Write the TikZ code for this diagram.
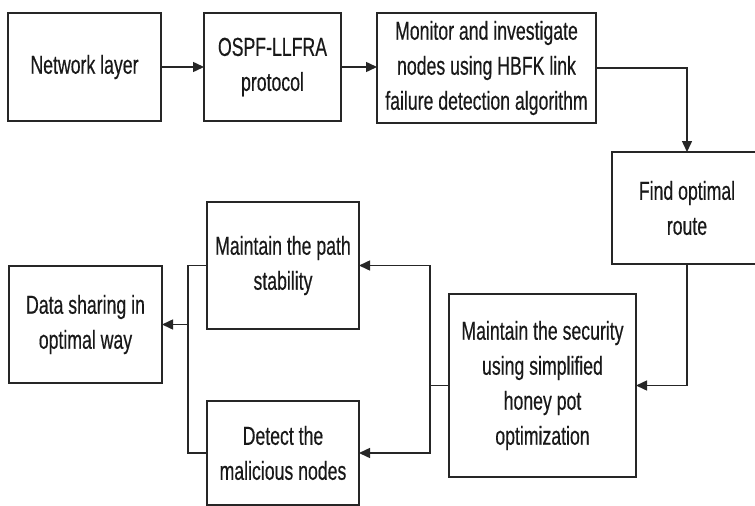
\documentclass[tikz,border=0pt]{standalone}
\usepackage{fontspec}
\setmainfont{Liberation Sans}[FakeStretch=0.68,FakeBold=0.4]
\usetikzlibrary{arrows.meta,calc}

\tikzset{
  blk/.style={draw=black!85, line width=1.5pt, inner sep=0pt, outer sep=0pt,
    align=center, text=black!90, font=\fontsize{26}{35}\selectfont},
  link/.style={draw=black!85, line width=1.5pt},
  flow/.style={link, -{Triangle[length=11pt,width=10pt]}}
}

\begin{document}
\begin{tikzpicture}[x=1pt,y=-1pt]
  \useasboundingbox (0,0) rectangle (755,506);
  \clip (0,0) rectangle (755,506);

  % top row
  \node[blk, minimum width=153pt, minimum height=108pt] (net) at (84.5,67) {Network layer};
  \node[blk, minimum width=137pt, minimum height=108pt] (ospf) at (272.5,67) {OSPF-LLFRA\\protocol};
  \node[blk, minimum width=219pt, minimum height=110pt] (mon) at (486.5,68)
    {Monitor and investigate\\nodes using HBFK link\\failure detection algorithm};

  % right column
  \node[blk, minimum width=150pt, minimum height=112pt] (route) at (687,208) {Find optimal\\route};
  \node[blk, minimum width=187pt, minimum height=183pt] (sec) at (542.5,385.5)
    {Maintain the security\\using simplified\\honey pot\\optimization};

  % middle column
  \node[blk, minimum width=152pt, minimum height=127pt] (path) at (283,265.5) {Maintain the path\\stability};
  \node[blk, minimum width=152pt, minimum height=104pt] (mal) at (283,453) {Detect the\\malicious nodes};

  % output
  \node[blk, minimum width=153pt, minimum height=117pt] (share) at (85.5,324.5) {Data sharing in\\optimal way};

  % junction points
  \coordinate (split) at ($(sec.west)+(-19,0)$);
  \coordinate (merge) at ($(share.east)+(26,0)$);

  % connectors
  \draw[flow] (net.east) -- (ospf.west);
  \draw[flow] (ospf.east) -- (ospf.east -| mon.west);
  \draw[flow] (mon.east) -| (route.north);
  \draw[flow] (route.south) |- (sec.east);
  \draw[link] (sec.west) -- (split);
  \draw[flow] (split) |- (path.east);
  \draw[flow] (split) |- (mal.east);
  \draw[link] (path.west) -| (merge);
  \draw[link] (mal.west) -| (merge);
  \draw[flow] (merge) -- (share.east);
\end{tikzpicture}
\end{document}
